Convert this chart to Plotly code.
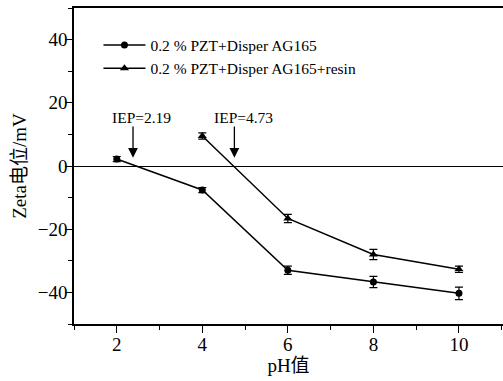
import plotly.graph_objects as go

ph_a = [2, 4, 6, 8, 10]
zeta_a = [2.2, -7.6, -33.0, -36.7, -40.3]
err_a = [0.8, 0.8, 1.3, 1.8, 2.0]
ph_b = [4, 6, 8, 10]
zeta_b = [9.5, -16.6, -28.0, -32.7]
err_b = [1.0, 1.3, 1.6, 1.0]
name_a = "0.2 % PZT+Disper AG165"
name_b = "0.2 % PZT+Disper AG165+resin"
iep_labels = ["IEP=2.19", "IEP=4.73"]
iep_arrow_x = [2.38, 4.75]
iep_text_x = [2.58, 4.97]

FONT = "'Liberation Serif', 'Noto Sans CJK SC', serif"

fig = go.Figure()
fig.add_trace(go.Scatter(
    x=ph_a, y=zeta_a, name=name_a, mode="lines+markers",
    line=dict(color="black", width=1.5),
    marker=dict(symbol="circle", size=7, color="black"),
    error_y=dict(type="data", array=err_a, color="black", thickness=1.2, width=4),
))
fig.add_trace(go.Scatter(
    x=ph_b, y=zeta_b, name=name_b, mode="lines+markers",
    line=dict(color="black", width=1.5),
    marker=dict(symbol="triangle-up", size=8, color="black"),
    error_y=dict(type="data", array=err_b, color="black", thickness=1.2, width=4),
))

for lab, axx, tx in zip(iep_labels, iep_arrow_x, iep_text_x):
    fig.add_annotation(x=tx, y=15.5, text=lab, showarrow=False,
                       font=dict(family=FONT, size=15.5, color="black"))
    fig.add_annotation(x=axx, y=2.6, ax=axx, ay=13.0, axref="x", ayref="y",
                       text="", showarrow=True, arrowhead=2, arrowsize=1.5,
                       arrowwidth=1.3, arrowcolor="black")

fig.update_layout(
    width=503, height=381,
    margin=dict(l=74, r=0, t=8, b=57),
    paper_bgcolor="white", plot_bgcolor="white",
    font=dict(family=FONT, size=19, color="black"),
    showlegend=True,
    legend=dict(x=0.057, y=0.935, xanchor="left", yanchor="top",
                bgcolor="rgba(0,0,0,0)", font=dict(family=FONT, size=15.5),
                tracegroupgap=0, itemsizing="trace", itemwidth=42),
    xaxis=dict(range=[1, 11.03], tickvals=[2, 4, 6, 8, 10], showgrid=False,
               zeroline=False, showline=True, linecolor="black", linewidth=1.5,
               mirror=True, ticks="outside", ticklen=7, tickwidth=1.3,
               tickcolor="black", ticklabelstandoff=-5,
               minor=dict(tickvals=[1, 3, 5, 7, 9, 11], ticks="outside",
                          ticklen=4, tickwidth=1.3, tickcolor="black"),
               title=dict(text="pH值", standoff=4,
                          font=dict(family=FONT, size=19))),
    yaxis=dict(range=[-50, 50], tickvals=[-40, -20, 0, 20, 40], showgrid=False,
               zeroline=True, zerolinecolor="black", zerolinewidth=1.2,
               showline=True, linecolor="black", linewidth=1.5,
               ticks="outside", ticklen=7, tickwidth=1.3, tickcolor="black",
               ticklabelstandoff=-6,
               minor=dict(tickvals=[-50, -30, -10, 10, 30, 50], ticks="outside",
                          ticklen=4, tickwidth=1.3, tickcolor="black"),
               title=dict(text="Zeta电位/mV", standoff=6,
                          font=dict(family=FONT, size=19))),
)

fig.write_html("out.html")
